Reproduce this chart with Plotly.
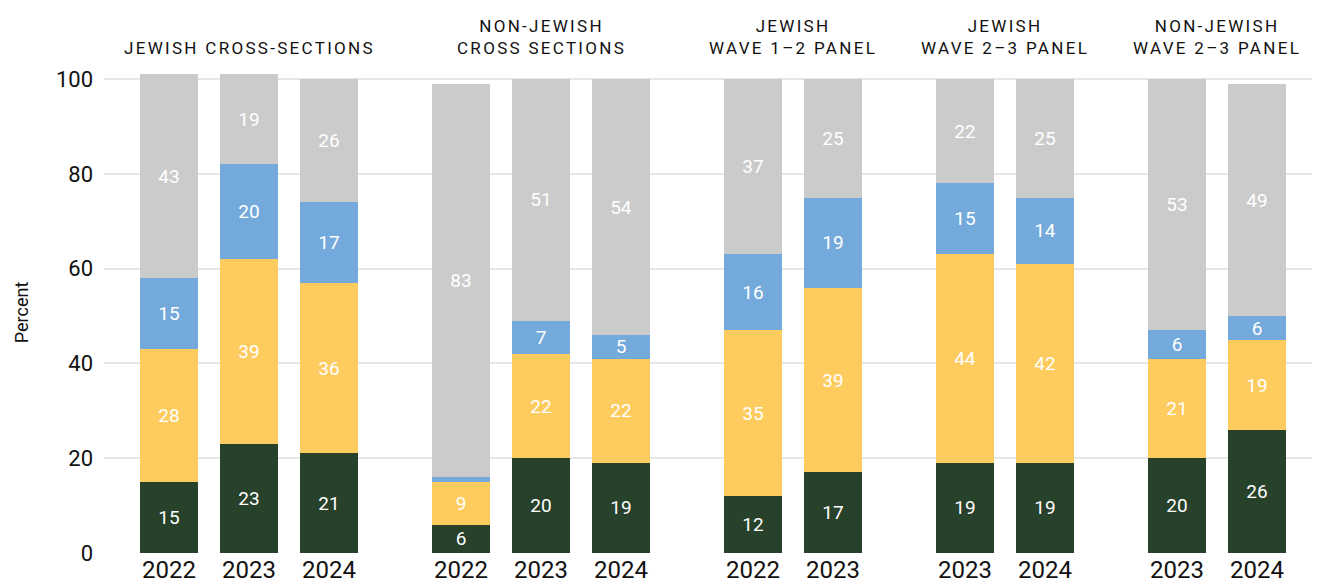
import plotly.graph_objects as go

# survey groups and the years in each
groups = [
    "JEWISH CROSS-SECTIONS",
    "NON-JEWISH<br>CROSS SECTIONS",
    "JEWISH<br>WAVE 1\u20132 PANEL",
    "JEWISH<br>WAVE 2\u20133 PANEL",
    "NON-JEWISH<br>WAVE 2\u20133 PANEL",
]
group_years = [
    ["2022", "2023", "2024"],
    ["2022", "2023", "2024"],
    ["2022", "2023"],
    ["2023", "2024"],
    ["2023", "2024"],
]

# stacked segments (labels shown), bottom to top, one value per bar
seg_dark = [15, 23, 21, 6, 20, 19, 12, 17, 19, 19, 20, 26]
seg_yellow = [28, 39, 36, 9, 22, 22, 35, 39, 44, 42, 21, 19]
seg_blue = [15, 20, 17, 1, 7, 5, 16, 19, 15, 14, 6, 6]
seg_gray = [43, 19, 26, 83, 51, 54, 37, 25, 22, 25, 53, 49]

# drawn heights of the last bar (labels are rounded differently)
last_bar_heights = [25.9, 19.0, 5.1, 48.9]

colors = ["#28412a", "#fecb5f", "#74a9db", "#cbcbcb"]
FONT = "Roboto, Arial, sans-serif"

# x positions: step 1 inside a group, extra gap between groups
xs, ticktext, centers = [], [], []
pos = 0.0
for yrs in group_years:
    start = pos
    for y in yrs:
        xs.append(pos)
        ticktext.append(y)
        pos += 1
    centers.append((start + pos - 1) / 2)
    pos += 0.65

fig = go.Figure()
for i, (vals, col) in enumerate(zip([seg_dark, seg_yellow, seg_blue, seg_gray], colors)):
    heights = list(vals[:-1]) + [last_bar_heights[i]]
    fig.add_trace(go.Bar(
        x=xs, y=heights, width=0.725, marker=dict(color=col, line=dict(width=0)),
        text=[str(v) if v >= 3 else "" for v in vals],
        textposition="inside", insidetextanchor="middle", textangle=0,
        constraintext="none", cliponaxis=False,
        textfont=dict(color="white", size=19, family=FONT),
        hoverinfo="skip", showlegend=False,
    ))

for c, g in zip(centers, groups):
    fig.add_annotation(
        x=c, xref="x", y=1.03, yref="paper", yanchor="bottom", yshift=-2,
        text='<span style="letter-spacing:2.3px">' + g + "</span>",
        showarrow=False, font=dict(size=17, family=FONT, color="#111"),
    )

# page body has an 8px margin, so the figure is sized and offset for it
fig.update_layout(
    barmode="stack", width=1312, height=580,
    margin=dict(l=96, r=5, t=64, b=35),
    plot_bgcolor="white", paper_bgcolor="white",
    font=dict(family=FONT, color="#111"),
)
fig.update_xaxes(
    range=[-0.8125, 14.325], tickvals=xs, ticktext=ticktext,
    tickfont=dict(size=24), showgrid=False, zeroline=False, showline=False,
)
fig.update_yaxes(
    range=[0, 101.5], tickvals=[0, 20, 40, 60, 80, 100],
    tickfont=dict(size=22), gridcolor="#e6e6e6", gridwidth=1.5,
    zeroline=False, showline=False, ticklabelstandoff=10,
    title=dict(text="Percent", font=dict(size=18), standoff=22),
)

fig.write_html("out.html")
